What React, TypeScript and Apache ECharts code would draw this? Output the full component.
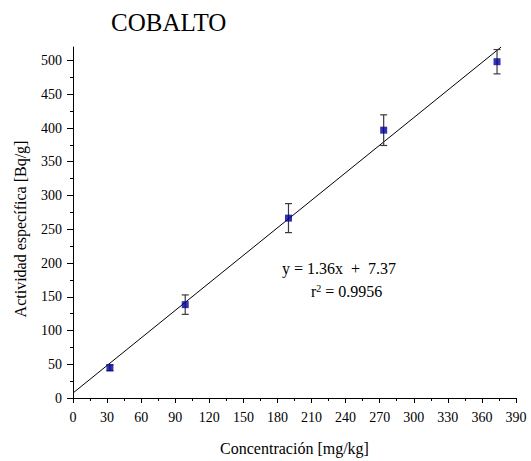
import React, { useEffect, useRef } from "react";
import * as echarts from "echarts";

const concentration = [32.5, 98.8, 189.7, 273.5, 373.3];
const activity = [44.8, 138.3, 266.5, 396.8, 498.2];
const errors = [4.4, 14.4, 21.5, 22.7, 18.0];
const slope = 1.36;
const intercept = 7.37;
const rSquared = 0.9956;
const xTicks = { min: 0, max: 390, interval: 30 };
const yTicks = { min: 0, max: 520, interval: 50 };
const yTickValues = [0, 50, 100, 150, 200, 250, 300, 350, 400, 450, 500];
const xAxisName = "Concentración [mg/kg]";
const yAxisName = "Actividad específica [Bq/g]";

const FONT = "Liberation Serif";

export default function App() {
  const ref = useRef<HTMLDivElement>(null);
  useEffect(() => {
    document.body.style.margin = "0";
    if (!ref.current) return;
    const chart = echarts.init(ref.current, undefined, { renderer: "svg" });
    const fitEndX = (yTicks.max - intercept) / slope;
    const fitLine = [
      [0, intercept],
      [fitEndX, slope * fitEndX + intercept],
    ];
    const errData = concentration.map((x, i) => [x, activity[i], errors[i]]);
    chart.setOption({
      animation: false,
      backgroundColor: "#ffffff",
      textStyle: { fontFamily: FONT },
      title: {
        text: "COBALTO",
        left: 106,
        top: 5,
        textStyle: { fontFamily: FONT, fontSize: 25, fontWeight: "normal", color: "#000" },
      },
      grid: { left: 73, right: 15, top: 47, bottom: 59, containLabel: false },
      xAxis: {
        type: "value",
        min: xTicks.min,
        max: xTicks.max,
        interval: xTicks.interval,
        name: xAxisName,
        nameLocation: "middle",
        nameGap: 42,
        nameTextStyle: { fontFamily: FONT, fontSize: 16, color: "#000" },
        axisLine: { show: true, lineStyle: { color: "#000", width: 1 } },
        axisTick: { show: true, length: 5, lineStyle: { color: "#000" } },
        minorTick: { show: true, splitNumber: 2, length: 3, lineStyle: { color: "#000" } },
        axisLabel: { fontFamily: FONT, fontSize: 14, color: "#000", margin: 12 },
        splitLine: { show: false },
      },
      yAxis: {
        type: "value",
        min: yTicks.min,
        max: yTicks.max,
        interval: yTicks.interval,
        axisLine: { show: true, lineStyle: { color: "#000", width: 1 } },
        axisTick: { show: true, length: 6, lineStyle: { color: "#000" }, customValues: yTickValues },
        minorTick: { show: true, splitNumber: 2, length: 3, lineStyle: { color: "#000" } },
        axisLabel: {
          fontFamily: FONT,
          fontSize: 14,
          color: "#000",
          margin: 11,
          customValues: yTickValues,
        },
        splitLine: { show: false },
      },
      series: [
        {
          type: "line",
          data: fitLine,
          symbol: "none",
          lineStyle: { color: "#000", width: 1 },
          z: 2,
        },
        {
          type: "custom",
          data: errData,
          z: 3,
          renderItem: (params: any, api: any) => {
            const x = api.value(0);
            const y = api.value(1);
            const e = api.value(2);
            const top = api.coord([x, y + e]);
            const bot = api.coord([x, y - e]);
            const cap = 3.5;
            const style = { stroke: "#3a3a3a", lineWidth: 1.2 };
            return {
              type: "group",
              children: [
                { type: "line", shape: { x1: top[0], y1: top[1], x2: bot[0], y2: bot[1] }, style },
                { type: "line", shape: { x1: top[0] - cap, y1: top[1], x2: top[0] + cap, y2: top[1] }, style },
                { type: "line", shape: { x1: bot[0] - cap, y1: bot[1], x2: bot[0] + cap, y2: bot[1] }, style },
              ],
            };
          },
        },
        {
          type: "scatter",
          data: concentration.map((x, i) => [x, activity[i]]),
          symbol: "rect",
          symbolSize: 7,
          itemStyle: { color: "#000099" },
          z: 4,
        },
      ],
      graphic: [
        {
          type: "text",
          x: 20,
          y: 229,
          rotation: Math.PI / 2,
          style: {
            text: yAxisName,
            font: `16px ${FONT}`,
            fill: "#000",
            align: "center",
            verticalAlign: "middle",
          },
        },
        {
          type: "text",
          left: 282,
          top: 260,
          style: {
            text: `y = ${slope}x  +  ${intercept}`,
            font: `16px ${FONT}`,
            fill: "#000",
          },
        },
        {
          type: "text",
          left: 311,
          top: 283,
          style: {
            text: `r{sup|2} = ${rSquared}`,
            font: `16px ${FONT}`,
            fill: "#000",
            rich: { sup: { fontSize: 10, verticalAlign: "top", padding: [0, 0, 6, 0], fontFamily: FONT } },
          },
        },
      ],
    });
    return () => chart.dispose();
  }, []);
  return <div ref={ref} style={{ width: 531, height: 461 }} />;
}
